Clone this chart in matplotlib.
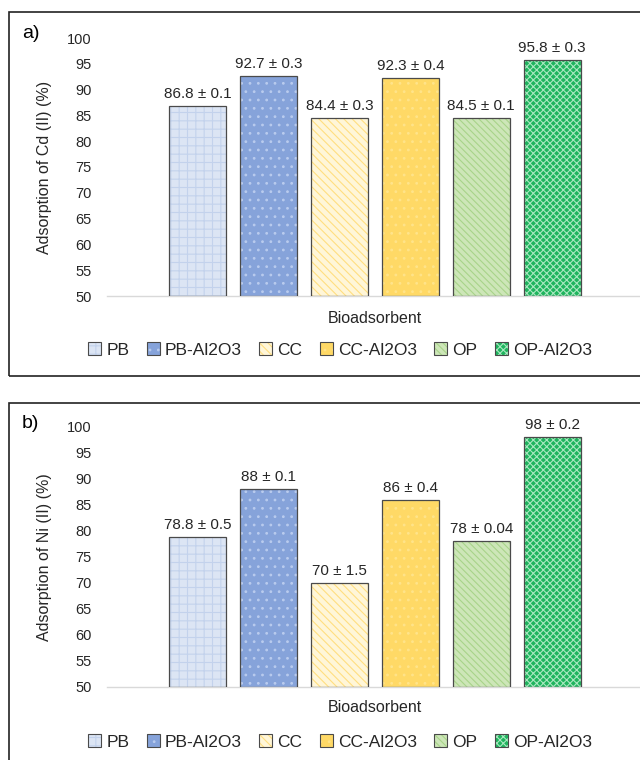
import numpy as np
import matplotlib
matplotlib.use('Agg')
import matplotlib.pyplot as plt
from matplotlib.patches import Rectangle, Patch
from matplotlib.legend_handler import HandlerTuple

plt.rcParams['font.family'] = ['Liberation Sans', 'DejaVu Sans']
plt.rcParams['hatch.linewidth'] = 0.8

categories = ['PB', 'PB-Al2O3', 'CC', 'CC-Al2O3', 'OP', 'OP-Al2O3']
cd_values = [86.8, 92.7, 84.4, 92.3, 84.5, 95.8]
cd_labels = ['86.8 ± 0.1', '92.7 ± 0.3', '84.4 ± 0.3', '92.3 ± 0.4', '84.5 ± 0.1', '95.8 ± 0.3']
ni_values = [78.8, 88, 70, 86, 78, 98]
ni_labels = ['78.8 ± 0.5', '88 ± 0.1', '70 ± 1.5', '86 ± 0.4', '78 ± 0.04', '98 ± 0.2']
yticks = list(range(50, 101, 5))

# fill colour, hatch pattern, hatch colour
styles = [
    ('#DCE5F4', '++', '#C3D2EC'),
    ('#86A3DA', '..', '#B9CBEE'),
    ('#FFF6D8', '\\\\\\\\', '#FFDF80'),
    ('#FFD966', '..', '#FFE48A'),
    ('#CDE6B8', '\\\\\\\\\\', '#A8D48A'),
    ('#1FB45E', 'xxxxx', '#A8E8C0'),
]
edge = '#4A4A4A'

W, H = 640, 760
fig = plt.figure(figsize=(6.4, 7.6), dpi=100)


def fx(px):
    return px / W


def fy(py):
    return 1 - py / H


def panel(top_px, base_px, values, labels, ylabel, tag, tag_y, xlab_y, leg_y, frame):
    ax = fig.add_axes([fx(107), fy(base_px), fx(643) - fx(107), fy(top_px) - fy(base_px)])
    x = np.arange(len(categories))
    for i, v in enumerate(values):
        fc, hatch, hc = styles[i]
        ax.bar(x[i], v - 50, bottom=50, width=0.805, color=fc, hatch=hatch,
               edgecolor=hc, linewidth=0, zorder=2)
        ax.bar(x[i], v - 50, bottom=50, width=0.805, fill=False,
               edgecolor=edge, linewidth=0.9, zorder=3)
        ax.text(x[i], v + 1.0, labels[i], ha='center', va='bottom', fontsize=11, color='#262626')
    ax.set_xlim(-1.285, 6.285)
    ax.set_ylim(50, 100)
    ax.set_yticks(yticks)
    ax.tick_params(axis='y', length=0, labelsize=10.5, labelcolor='#262626', pad=11)
    ax.set_xticks([])
    for s in ['top', 'right', 'left']:
        ax.spines[s].set_visible(False)
    ax.spines['bottom'].set_color('#D9D9D9')
    ax.spines['bottom'].set_linewidth(1)
    ax.set_facecolor('none')
    ax.set_ylabel(ylabel, fontsize=11.5, color='#262626', labelpad=11)

    fig.text(fx(375), fy(xlab_y), 'Bioadsorbent', ha='center', va='center', fontsize=11.5, color='#262626')
    fig.text(fx(22), fy(tag_y), tag, ha='left', va='center', fontsize=14)

    # legend handles: hatched fill plus dark outline drawn on top of each other
    handles = [(Patch(facecolor=styles[i][0], hatch=styles[i][1], edgecolor=styles[i][2], linewidth=0),
                Patch(fill=False, edgecolor=edge, linewidth=0.8))
               for i in range(len(categories))]
    leg = fig.legend(handles, categories, loc='center', bbox_to_anchor=(fx(340), fy(leg_y)),
                     ncol=6, frameon=False, fontsize=12.5, handlelength=0.75, handleheight=0.75,
                     handletextpad=0.3, columnspacing=1.0, borderaxespad=0,
                     handler_map={tuple: HandlerTuple(ndivide=1)})
    for t in leg.get_texts():
        t.set_color('#262626')

    fig.patches.append(Rectangle((fx(9), fy(frame[1])), 1.2, fy(frame[0]) - fy(frame[1]),
                                 transform=fig.transFigure, fill=False, edgecolor='#222222',
                                 linewidth=1.2, zorder=0))
    return ax


panel(38, 296, cd_values, cd_labels, 'Adsorption of Cd (II) (%)', 'a)', 33, 318, 350, (12, 376))
panel(427, 687, ni_values, ni_labels, 'Adsorption of Ni (II) (%)', 'b)', 424, 708, 742, (403, 800))

fig.savefig('out.png', dpi=100)
